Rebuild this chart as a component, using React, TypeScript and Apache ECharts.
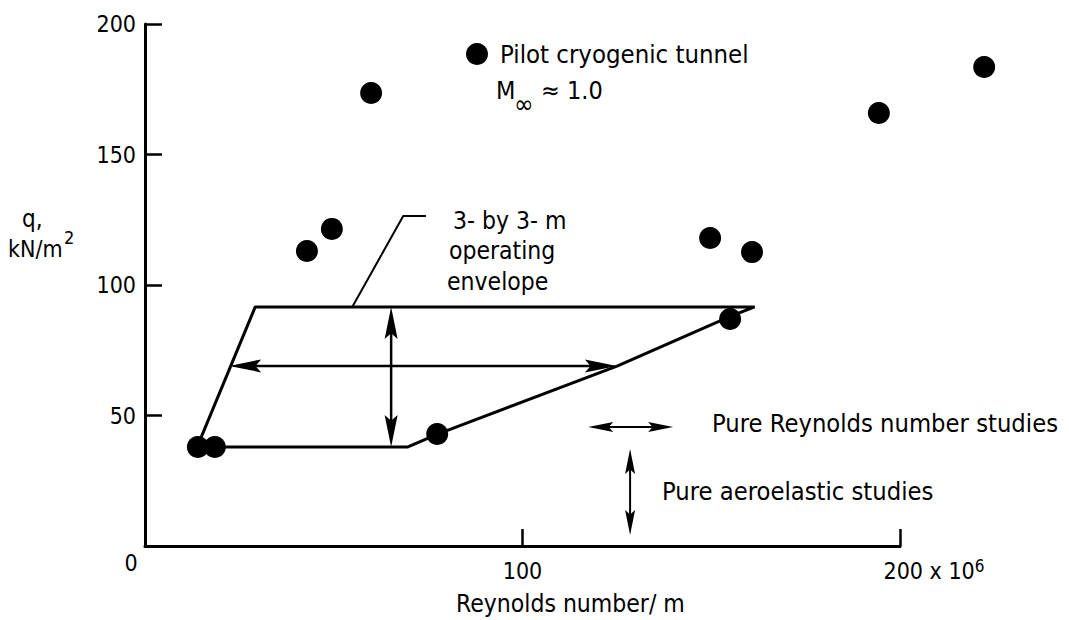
import React, { useEffect, useRef } from "react";
import * as echarts from "echarts";

// ---- data (Reynolds number/m in 10^6, q in kN/m^2) ----
const tunnelRe = [14.0, 18.5, 42.9, 49.5, 59.9, 77.4, 149.7, 155.0, 160.8, 194.4, 222.3];
const tunnelQ = [37.9, 37.9, 113.0, 121.5, 173.6, 42.9, 118.0, 87.0, 112.6, 165.9, 183.5];

const envelopeRe = [13.8, 29.2, 161.5, 155.2, 125.2, 77.5, 69.5, 13.8];
const envelopeQ = [37.9, 91.6, 91.6, 88.1, 69.0, 42.9, 37.9, 37.9];

const leaderRe = [54.9, 68.4, 74.4];
const leaderQ = [91.6, 126.4, 126.4];

// double arrows: [x1, y1, x2, y2]
const rangeArrows = [
  [22.3, 69.0, 125.0, 69.0],
  [65.2, 37.9, 65.2, 91.6],
];
const keyArrows = [
  [117.4, 45.6, 139.9, 45.6],
  [128.5, 37.2, 128.5, 4.2],
];

const xMin = 0;
const xMax = 200;
const xInterval = 100;
const yMin = 0;
const yMax = 200;
const yInterval = 50;

const seriesName = "Pilot cryogenic tunnel";
const envelopeLines = ["3- by 3- m", "operating", "envelope"];
const xTitle = "Reynolds number/ m";
const yTitle1 = "q,";
const yTitle2 = "kN/m";
const reynoldsNote = "Pure Reynolds number studies";
const aeroNote = "Pure aeroelastic studies";

const FONT = "'DejaVu Sans Condensed', 'Liberation Sans Narrow', 'Arial Narrow', sans-serif";

function arrowRenderer(L: number, W: number, lw: number) {
  return (params: any, api: any) => {
    const a = api.coord([api.value(0), api.value(1)]);
    const b = api.coord([api.value(2), api.value(3)]);
    const dx = b[0] - a[0];
    const dy = b[1] - a[1];
    const len = Math.hypot(dx, dy);
    const ux = dx / len;
    const uy = dy / len;
    const px = -uy;
    const py = ux;
    const head = (tip: number[], dir: number) => {
      const bx = tip[0] - dir * ux * L;
      const by = tip[1] - dir * uy * L;
      const nx = tip[0] - dir * ux * L * 0.82;
      const ny = tip[1] - dir * uy * L * 0.82;
      return {
        type: "polygon",
        shape: {
          points: [
            [tip[0], tip[1]],
            [bx + (px * W) / 2, by + (py * W) / 2],
            [nx, ny],
            [bx - (px * W) / 2, by - (py * W) / 2],
          ],
        },
        style: { fill: "#000" },
      };
    };
    return {
      type: "group",
      children: [
        {
          type: "line",
          shape: {
            x1: a[0] + ux * L * 0.5,
            y1: a[1] + uy * L * 0.5,
            x2: b[0] - ux * L * 0.5,
            y2: b[1] - uy * L * 0.5,
          },
          style: { stroke: "#000", lineWidth: lw },
        },
        head(a, -1),
        head(b, 1),
      ],
    };
  };
}

function txt(text: string, x: number, y: number, size: number, align = "left") {
  return {
    type: "text",
    x,
    y,
    style: {
      text,
      fontSize: size,
      fontFamily: FONT,
      fill: "#000",
      align,
      verticalAlign: "middle",
      textAlign: align,
      textVerticalAlign: "middle",
    },
  };
}

export default function App() {
  const ref = useRef<HTMLDivElement>(null);
  useEffect(() => {
    if (!ref.current) return;
    const chart = echarts.init(ref.current, null, { renderer: "svg" });
    const scatterData = tunnelRe.map((x, i) => [x, tunnelQ[i]]);
    const envData = envelopeRe.map((x, i) => [x, envelopeQ[i]]);
    const leaderData = leaderRe.map((x, i) => [x, leaderQ[i]]);
    chart.setOption({
      animation: false,
      backgroundColor: "#fff",
      textStyle: { fontFamily: FONT, color: "#000" },
      grid: { left: 145, right: 169, top: 24, bottom: 74, containLabel: false },
      legend: {
        data: [{ name: seriesName, icon: "circle" }],
        left: 466,
        top: 41,
        padding: 0,
        itemWidth: 22,
        itemHeight: 22,
        selectedMode: false,
        textStyle: { fontSize: 25.5, fontFamily: FONT, color: "#000", padding: [0, 0, 0, 7] },
      },
      xAxis: {
        type: "value",
        min: xMin,
        max: xMax,
        interval: xInterval,
        splitLine: { show: false },
        axisLine: { lineStyle: { color: "#000", width: 3 } },
        axisTick: { inside: true, length: 17, lineStyle: { color: "#000", width: 2.5 } },
        axisLabel: {
          margin: 11,
          color: "#000",
          fontFamily: FONT,
          fontSize: 23,
          lineHeight: 28,
          formatter: (v: number) => {
            if (v === 0) return "";
            if (v === xMax) return "{p|}{a|" + v + " x 10}{b|6}";
            return "{a|" + v + "}";
          },
          rich: {
            p: { width: 68, height: 28 },
            a: { fontSize: 23, fontFamily: FONT, color: "#000", lineHeight: 28 },
            b: { fontSize: 17, fontFamily: FONT, color: "#000", lineHeight: 15, verticalAlign: "top" },
          },
        },
      },
      yAxis: {
        type: "value",
        min: yMin,
        max: yMax,
        interval: yInterval,
        splitLine: { show: false },
        axisLine: { lineStyle: { color: "#000", width: 3 } },
        axisTick: { inside: true, length: 17, lineStyle: { color: "#000", width: 2.5 } },
        axisLabel: {
          margin: 9,
          color: "#000",
          fontFamily: FONT,
          fontSize: 23,
          padding: [5, 0, 0, 0],
          formatter: (v: number) => (v === 0 ? "" : String(v)),
        },
      },
      series: [
        {
          name: "envelope",
          type: "line",
          data: envData,
          symbol: "none",
          clip: false,
          lineStyle: { color: "#000", width: 3 },
          z: 2,
        },
        {
          name: "leader",
          type: "line",
          data: leaderData,
          symbol: "none",
          clip: false,
          lineStyle: { color: "#000", width: 2 },
          z: 2,
        },
        {
          name: "range arrows",
          type: "custom",
          data: rangeArrows,
          renderItem: arrowRenderer(32, 13, 2.5),
          z: 3,
        },
        {
          name: "key arrows",
          type: "custom",
          data: keyArrows,
          renderItem: arrowRenderer(25, 10, 2),
          z: 3,
        },
        {
          name: seriesName,
          type: "scatter",
          data: scatterData,
          symbol: "circle",
          symbolSize: 22,
          clip: false,
          itemStyle: { color: "#000", opacity: 1 },
          z: 5,
        },
      ],
      graphic: [
        txt(yTitle1, 22, 219, 24),
        txt(yTitle2, 8, 249, 23),
        txt("2", 64, 237, 18),
        txt("0", 131, 563, 23, "center"),
        txt(xTitle, 456, 603, 24.5),
        txt(envelopeLines[0], 453, 220, 24.5),
        txt(envelopeLines[1], 449, 250, 24.5),
        txt(envelopeLines[2], 447, 281, 24.5),
        txt("M", 496, 90, 25),
        txt("\u221e", 514, 104, 26),
        txt("\u2248 1.0", 541, 90, 25),
        txt(reynoldsNote, 712, 423, 25.3),
        txt(aeroNote, 662, 491, 25.3),
      ],
    });
    return () => chart.dispose();
  }, []);
  return (
    <div
      ref={ref}
      style={{ position: "fixed", left: 0, top: 0, width: 1069, height: 620, background: "#fff" }}
    />
  );
}
